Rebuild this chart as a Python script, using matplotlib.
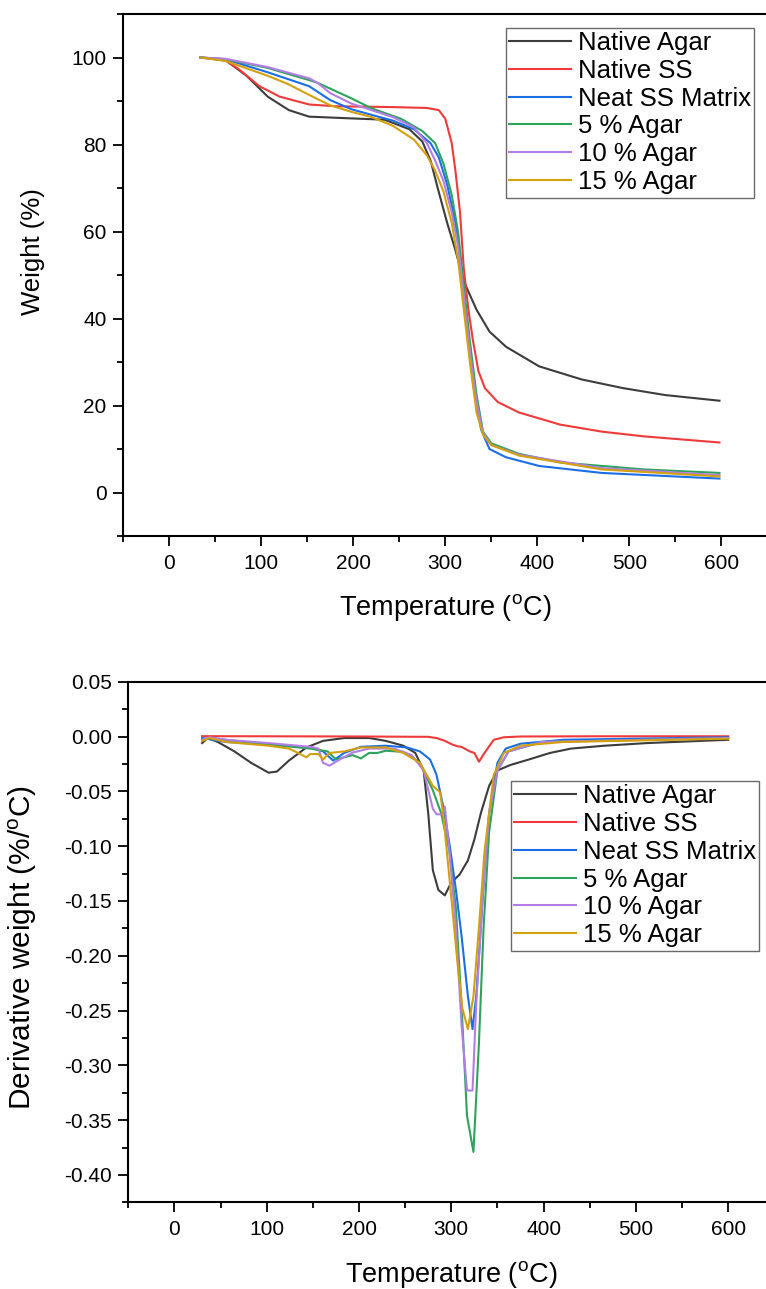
import numpy as np
import matplotlib
matplotlib.use('Agg')
import matplotlib.pyplot as plt
from matplotlib.ticker import MultipleLocator, FormatStrFormatter

plt.rcParams['font.family'] = ['Liberation Sans', 'DejaVu Sans']
plt.rcParams['axes.unicode_minus'] = False
plt.rcParams['mathtext.default'] = 'regular'

labels = ['Native Agar', 'Native SS', 'Neat SS Matrix', '5 % Agar', '10 % Agar', '15 % Agar']
colors = ['#3c3c3c', '#f03a3a', '#1c6ee6', '#2ea35c', '#b27ee6', '#d3a00e']

# TGA curves (temperature, weight %)
tga_agar_T = [34, 61, 84, 107, 130, 152, 198, 234, 261, 275, 284, 293, 302, 311, 320, 334, 348, 366, 402, 448, 493, 539, 598]
tga_agar_W = [100, 99.4, 95.8, 91, 87.9, 86.4, 86, 85.7, 83.5, 80.7, 76.3, 69, 62, 55.7, 48.6, 42, 37, 33.5, 29, 26, 24, 22.4, 21.1]

tga_ss_T = [34, 61, 75, 98, 120, 152, 180, 243, 280, 293, 300, 307, 311, 316, 320, 325, 330, 336, 343, 357, 380, 425, 470, 516, 598]
tga_ss_W = [100, 99.3, 97.4, 93.4, 91, 89.2, 88.8, 88.6, 88.4, 87.9, 85.9, 80.3, 74, 64.4, 51.7, 42.2, 35, 27.9, 24, 20.8, 18.4, 15.6, 14, 12.9, 11.5]

tga_neat_T = [34, 61, 107, 152, 175, 198, 220, 243, 266, 284, 293, 302, 311, 316, 320, 325, 332, 339, 348, 366, 402, 470, 598]
tga_neat_W = [100, 99.6, 96.6, 93.4, 90.2, 88.1, 86.8, 85.5, 83.5, 80.3, 77, 70.8, 62, 54, 45.4, 35.9, 22.4, 14.4, 10, 8.1, 6.1, 4.5, 3.2]

tga_5_T = [34, 61, 107, 152, 161, 198, 220, 252, 275, 289, 298, 307, 314, 320, 327, 334, 341, 350, 380, 425, 516, 598]
tga_5_W = [100, 99.6, 97.6, 94.8, 94.2, 90.6, 88.3, 85.9, 83.1, 80.3, 75.6, 68.4, 59.7, 47.8, 34.3, 22.4, 14, 11.3, 8.9, 6.9, 5.3, 4.5]

tga_10_T = [34, 61, 107, 152, 161, 175, 198, 243, 266, 280, 289, 298, 307, 314, 320, 327, 334, 341, 350, 380, 470, 598]
tga_10_W = [100, 99.7, 97.8, 95.2, 94.2, 91.8, 89.4, 86.3, 83.9, 80.3, 76.3, 71.6, 64.4, 56.5, 45.4, 31.9, 20.8, 13.7, 10.9, 8.7, 5.6, 4.0]

tga_15_T = [34, 61, 107, 130, 152, 175, 198, 220, 243, 266, 280, 289, 298, 307, 314, 320, 327, 334, 341, 350, 380, 470, 598]
tga_15_W = [100, 99.2, 95.8, 93.8, 91.4, 89, 87.5, 86.3, 84.3, 81.1, 77.5, 74, 69.2, 62, 53.3, 42.2, 29.5, 18.4, 13.3, 10.9, 8.5, 5.3, 3.7]

# DTG curves (temperature, derivative weight %/C)
dtg_agar_T = [30, 36, 47, 65, 83, 102, 111, 124, 143, 161, 184, 211, 229, 248, 261, 270, 275, 280, 286, 293, 300, 309, 318, 325, 332, 341, 350, 364, 384, 407, 430, 466, 512, 600]
dtg_agar_D = [-0.006, -0.0014, -0.005, -0.0136, -0.024, -0.033, -0.032, -0.022, -0.010, -0.004, -0.0014, -0.0014, -0.004, -0.0084, -0.015, -0.031, -0.07, -0.122, -0.14, -0.145, -0.133, -0.126, -0.113, -0.094, -0.07, -0.045, -0.031, -0.026, -0.021, -0.015, -0.011, -0.0084, -0.006, -0.003]

dtg_ss_T = [30, 100, 200, 275, 284, 293, 302, 307, 311, 320, 325, 330, 336, 346, 357, 375, 450, 600]
dtg_ss_D = [0.0003, 0.0002, 0.0, -0.0003, -0.0014, -0.004, -0.0077, -0.009, -0.0094, -0.0136, -0.015, -0.023, -0.015, -0.003, -0.0007, 0.0, 0.0002, 0.0002]

dtg_neat_T = [30, 56, 102, 147, 161, 172, 184, 202, 229, 252, 266, 277, 284, 291, 298, 305, 311, 318, 323, 327, 332, 336, 341, 350, 359, 375, 421, 600]
dtg_neat_D = [-0.0014, -0.005, -0.0073, -0.010, -0.0136, -0.022, -0.015, -0.0094, -0.0084, -0.010, -0.0136, -0.021, -0.035, -0.063, -0.098, -0.14, -0.181, -0.237, -0.267, -0.237, -0.174, -0.122, -0.07, -0.024, -0.011, -0.0066, -0.003, -0.0007]

dtg_5_T = [30, 38, 102, 147, 166, 175, 184, 193, 202, 211, 220, 229, 248, 266, 280, 289, 298, 305, 311, 317, 324, 330, 335, 341, 350, 362, 398, 600]
dtg_5_D = [-0.003, -0.0014, -0.0073, -0.011, -0.0136, -0.021, -0.019, -0.017, -0.02, -0.015, -0.015, -0.013, -0.014, -0.024, -0.049, -0.07, -0.105, -0.157, -0.244, -0.346, -0.379, -0.279, -0.174, -0.087, -0.031, -0.0136, -0.005, -0.0014]

dtg_10_T = [30, 38, 56, 102, 147, 156, 161, 168, 179, 193, 211, 238, 257, 270, 280, 284, 290, 293, 298, 305, 311, 317, 323, 327, 334, 341, 350, 362, 398, 600]
dtg_10_D = [-0.003, -0.0007, -0.003, -0.006, -0.0094, -0.011, -0.024, -0.0266, -0.021, -0.0147, -0.011, -0.011, -0.017, -0.031, -0.066, -0.071, -0.071, -0.064, -0.105, -0.174, -0.262, -0.323, -0.323, -0.244, -0.147, -0.07, -0.031, -0.0136, -0.005, -0.0014]

dtg_15_T = [30, 38, 56, 102, 124, 134, 143, 147, 156, 161, 168, 184, 202, 229, 248, 266, 280, 288, 292, 300, 307, 312, 318, 324, 330, 336, 346, 357, 375, 421, 600]
dtg_15_D = [-0.004, -0.0014, -0.005, -0.0084, -0.011, -0.015, -0.019, -0.016, -0.016, -0.021, -0.015, -0.0136, -0.010, -0.010, -0.015, -0.024, -0.045, -0.051, -0.077, -0.147, -0.209, -0.248, -0.267, -0.237, -0.174, -0.105, -0.035, -0.015, -0.0084, -0.005, -0.002]

tga_T = [tga_agar_T, tga_ss_T, tga_neat_T, tga_5_T, tga_10_T, tga_15_T]
tga_W = [tga_agar_W, tga_ss_W, tga_neat_W, tga_5_W, tga_10_W, tga_15_W]
dtg_T = [dtg_agar_T, dtg_ss_T, dtg_neat_T, dtg_5_T, dtg_10_T, dtg_15_T]
dtg_D = [dtg_agar_D, dtg_ss_D, dtg_neat_D, dtg_5_D, dtg_10_D, dtg_15_D]

W, H = 766, 1289
fig = plt.figure(figsize=(W / 100, H / 100), dpi=100)

# axes placed in pixel units, right spine runs off the image like the reference
ax1 = fig.add_axes([123.3 / W, 1 - 536 / H, 644 / W, 522 / H])
ax2 = fig.add_axes([128.3 / W, 1 - 1202.3 / H, 646 / W, 520.6 / H])


def style_axes(ax):
    for s in ax.spines.values():
        s.set_linewidth(1.5)
    ax.tick_params(which='major', direction='out', length=7.5, width=1.3, pad=4.5,
                   labelsize=15, top=False, right=False)
    ax.tick_params(axis='x', which='major', pad=5.5)
    ax.tick_params(which='minor', direction='out', length=4.6, width=1.3, top=False, right=False)
    ax.xaxis.set_major_locator(MultipleLocator(100))
    ax.xaxis.set_minor_locator(MultipleLocator(50))
    ax.set_xlim(-50, 650)
    ax.set_xlabel('Temperature ($^{o}$C)', fontsize=19.5)
    ax.xaxis.set_label_coords(0.5, -0.108)


def add_legend(ax, anchor):
    leg = ax.legend(loc='upper left', bbox_to_anchor=anchor, fontsize=18.5, frameon=True, fancybox=False,
                    edgecolor='#6a6a6a', framealpha=1, borderaxespad=0, borderpad=0.13, labelspacing=0.15,
                    handlelength=2.4, handletextpad=0.27)
    leg.get_frame().set_linewidth(1.0)
    return leg


for i in range(6):
    ax1.plot(tga_T[i], tga_W[i], color=colors[i], lw=1.5, label=labels[i])
    ax2.plot(dtg_T[i], dtg_D[i], color=colors[i], lw=1.5, label=labels[i])

style_axes(ax1)
ax1.set_ylim(-10, 110)
ax1.yaxis.set_major_locator(MultipleLocator(20))
ax1.yaxis.set_minor_locator(MultipleLocator(10))
ax1.set_ylabel('Weight (%)', fontsize=18.5)
ax1.yaxis.set_label_coords(-0.122, 0.545)
add_legend(ax1, (0.594, 0.974))

style_axes(ax2)
ax2.set_ylim(-0.425, 0.05)
ax2.yaxis.set_major_locator(MultipleLocator(0.05))
ax2.yaxis.set_minor_locator(MultipleLocator(0.025))
ax2.yaxis.set_major_formatter(FormatStrFormatter('%.2f'))
ax2.set_ylabel('Derivative weight (%/$^{o}$C)', fontsize=21.5)
ax2.yaxis.set_label_coords(-0.138, 0.49)
add_legend(ax2, (0.592, 0.81))

fig.savefig('out.png', dpi=100)
